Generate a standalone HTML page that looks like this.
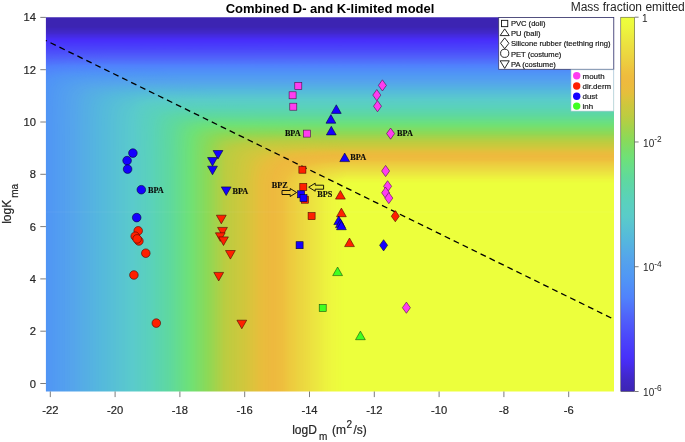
<!DOCTYPE html>
<html><head><meta charset="utf-8"><title>Combined D- and K-limited model</title>
<style>html,body{margin:0;padding:0;background:#fff}body{width:685px;height:442px;overflow:hidden}</style></head>
<body>
<svg width="685" height="442" viewBox="0 0 685 442" style="display:block">
<rect width="685" height="442" fill="#fff"/>
<g shape-rendering="geometricPrecision">
<clipPath id="hc"><rect x="45" y="17" width="569" height="375"/></clipPath><g clip-path="url(#hc)">
<rect x="44" y="16" width="571" height="377" fill="#3c24b2"/>
<path fill="#3d25b5" d="M44 393L44 27L615 26.9L615 393z"/>
<path fill="#3d25b8" d="M44 393L44 27.7L615 27.7L615 393z"/>
<path fill="#3e26bb" d="M44 393L44 28.5L615 28.5L615 393z"/>
<path fill="#3f26be" d="M44 393L44 29.3L615 29.3L615 393z"/>
<path fill="#3f27c1" d="M44 393L44 30.1L615 30.1L615 393z"/>
<path fill="#4027c4" d="M44 393L44 30.9L615 30.9L615 393z"/>
<path fill="#4128c7" d="M44 393L44 31.7L615 31.7L615 393z"/>
<path fill="#4229cc" d="M44 393L44 32.5L615 32.5L615 393z"/>
<path fill="#4229d1" d="M44 393L44 33.3L615 33.3L615 393z"/>
<path fill="#432ad7" d="M44 393L44 34.1L615 34L615 393z"/>
<path fill="#442adc" d="M44 393L44 34.8L615 34.8L615 393z"/>
<path fill="#442be1" d="M44 393L44 35.6L615 35.6L615 393z"/>
<path fill="#452ce6" d="M44 393L44 36.4L615 36.4L615 393z"/>
<path fill="#462ceb" d="M44 393L44 37.2L615 37.2L615 393z"/>
<path fill="#472df0" d="M44 393L44 38L615 38L615 393z"/>
<path fill="#472df5" d="M44 393L44 38.8L615 38.8L615 393z"/>
<path fill="#482efa" d="M44 393L44 39.6L615 39.6L615 393z"/>
<path fill="#4830fa" d="M44 393L44 40.4L615 40.4L615 393z"/>
<path fill="#4932fa" d="M44 393L44 41.2L615 41.1L615 393z"/>
<path fill="#4934fa" d="M44 393L44 42L615 41.9L615 393z"/>
<path fill="#4936fa" d="M44 393L44 42.8L615 42.7L615 393z"/>
<path fill="#4939fa" d="M44 393L44 43.6L615 43.5L615 393z"/>
<path fill="#4a3bfa" d="M44 393L44 44.4L615 44.3L615 393z"/>
<path fill="#4a3dfa" d="M44 393L44 45.2L615 45.1L615 393z"/>
<path fill="#4a3ffa" d="M44 393L44 46L615 45.9L615 393z"/>
<path fill="#4a41fa" d="M44 393L44 46.8L615 46.7L615 393z"/>
<path fill="#4b43fa" d="M44 393L44 47.6L615 47.4L615 393z"/>
<path fill="#4b45fa" d="M44 393L44 48.4L615 48.2L615 393z"/>
<path fill="#4b47fa" d="M44 393L44 49.2L615 49L615 393z"/>
<path fill="#4c4afa" d="M44 393L44 50L112.5 49.8L615 49.8L615 393z"/>
<path fill="#4c4dfa" d="M44 393L44 50.8L110 50.6L615 50.6L615 393z"/>
<path fill="#4d4ffa" d="M44 393L44 51.6L108.5 51.4L615 51.4L615 393z"/>
<path fill="#4d52fa" d="M44 393L44 52.4L110 52.2L615 52.2L615 393z"/>
<path fill="#4e54fa" d="M44 393L44 53.2L109.5 53L615 53L615 393z"/>
<path fill="#4e57fa" d="M44 393L44 54.1L107.5 53.8L615 53.8L615 393z"/>
<path fill="#4f59fa" d="M44 393L44 54.9L109.5 54.6L615 54.5L615 393z"/>
<path fill="#4f5cfa" d="M44 393L44 55.7L69 55.4L110 55.3L615 55.3L615 393z"/>
<path fill="#505efa" d="M44 393L44 56.6L68.5 56.2L109.5 56.1L615 56.1L615 393z"/>
<path fill="#5061fa" d="M44 393L44 57.4L68 57.1L110.5 56.9L615 56.9L615 393z"/>
<path fill="#5064fa" d="M44 393L44 58.3L68.5 57.9L109.5 57.7L615 57.7L615 393z"/>
<path fill="#5067fa" d="M44 393L44 59.1L68 58.7L111 58.5L615 58.5L615 393z"/>
<path fill="#506afb" d="M44 393L44 60L68 59.5L110 59.3L615 59.3L615 393z"/>
<path fill="#506dfb" d="M44 393L44 60.9L67 60.3L111 60.1L615 60.1L615 393z"/>
<path fill="#5070fb" d="M44 393L44 61.8L67 61.1L109 60.9L615 60.8L615 393z"/>
<path fill="#5073fb" d="M44 393L44 62.7L55 62.3L69 61.9L111 61.7L615 61.6L615 393z"/>
<path fill="#5076fb" d="M44 393L44 63.7L54 63.2L68 62.8L110 62.5L615 62.4L615 393z"/>
<path fill="#507afb" d="M44 393L44 64.7L54 64.1L67.5 63.6L108 63.3L615 63.2L615 393z"/>
<path fill="#507dfc" d="M44 393L44 65.7L53.5 65L66.5 64.5L108.5 64.1L615 64L615 393z"/>
<path fill="#5080fc" d="M44 393L44 66.7L54 65.9L67 65.3L84.5 65L107.5 64.9L615 64.8L615 393z"/>
<path fill="#5082fc" d="M44 393L44 67.8L53.5 66.9L67 66.2L83.5 65.8L108 65.7L615 65.6L615 393z"/>
<path fill="#5084fb" d="M44 393L44 69L53.5 67.9L65.5 67.1L82.5 66.7L106.5 66.5L615 66.4L615 393z"/>
<path fill="#5086fb" d="M44 393L44 70.2L53 68.9L66 68L82 67.5L105.5 67.3L615 67.2L615 393z"/>
<path fill="#5088fa" d="M44 393L44 71.6L48 70.7L53 70L64.9 69L81.5 68.4L104.5 68.1L168 67.9L615 67.9L615 393z"/>
<path fill="#508af9" d="M44 393L44 73L48 72L52.5 71.2L64 70L80.5 69.3L103.5 68.9L165 68.7L615 68.7L615 393z"/>
<path fill="#508cf9" d="M44 393L44 74.7L47.6 73.5L52 72.5L57 71.7L63.5 71L79.5 70.2L102 69.7L163 69.5L615 69.5L615 393z"/>
<path fill="#508ef8" d="M44 393L44 76.7L47.5 75.1L51.5 73.9L56.5 72.9L62.5 72.1L69.5 71.5L78.5 71.1L101.5 70.6L168 70.3L615 70.3L615 393z"/>
<path fill="#5090f7" d="M44 393L44 79.1L46.4 77.5L49.8 76L54 74.7L59 73.7L65 72.9L72.5 72.3L81 71.9L104 71.4L168.5 71.1L615 71.1L615 393z"/>
<path fill="#5092f7" d="M44 393L44 82.6L46 80.4L49 78.3L52.5 76.7L56.5 75.5L61.6 74.5L67.5 73.7L75 73.1L83 72.7L106.5 72.1L167 71.9L615 71.9L615 393z"/>
<path fill="#5094f6" d="M44 393L44 89L45.2 85.5L46.8 83L49 80.7L51.5 79L55 77.5L59 76.3L64 75.3L70 74.5L77.5 73.9L86.5 73.4L110 72.9L172 72.7L615 72.7L615 393z"/>
<path fill="#5095f5" d="M44.9 393L44.9 128L45.1 103L45.4 97.5L45.8 93.5L46.4 90L47.2 87.5L48.4 85L49.9 83L52 81.1L54 79.8L57.5 78.3L61.5 77.1L66.5 76.1L72.5 75.3L79.5 74.7L89 74.2L112.5 73.7L168.5 73.5L615 73.5L615 393z"/>
<path fill="#5097f4" d="M47.4 393L47.4 129.5L47.6 104L48.3 94.5L48.9 91L49.6 88.5L50.8 86L52.2 84L54 82.3L56.5 80.6L60 79.1L64 77.9L69 76.9L75 76.1L90 75.1L115 74.5L173 74.3L615 74.3L615 393z"/>
<path fill="#5198f3" d="M49.9 393L49.9 131L50.1 104.5L50.4 99L50.8 95L51.3 92L52.2 89L53.5 86.5L55 84.5L56.6 83L58.8 81.5L62.1 80L66.5 78.7L71.5 77.7L77.5 76.9L92 75.9L117 75.3L172 75L615 75L615 393z"/>
<path fill="#519af2" d="M52.4 393L52.4 131L52.6 105.5L52.9 100L53.3 96L53.9 92.5L54.7 90L55.8 87.5L57.3 85.5L59 83.9L61.5 82.2L65 80.6L69 79.4L74 78.4L80.5 77.6L87.5 77L95 76.7L121 76.1L174.5 75.8L615 75.8L615 393z"/>
<path fill="#529bf2" d="M54.9 393L54.9 132.5L55.1 106L55.4 100.5L55.8 96.5L56.5 93L57.3 90.5L58.5 88L60 86L61.7 84.5L64 83L67.3 81.5L71.5 80.2L76.5 79.2L83 78.4L90 77.8L98 77.4L123.5 76.9L177 76.6L615 76.6L615 393z"/>
<path fill="#529df1" d="M57.4 393L57.4 132.5L57.6 107L57.9 101.5L58.3 97.5L58.9 94L59.7 91.5L60.9 89L62.4 87L64 85.4L66.5 83.8L70 82.2L74.1 81L79.2 80L85.5 79.2L91.5 78.7L101 78.2L126 77.7L179.5 77.4L615 77.4L615 393z"/>
<path fill="#539ef0" d="M59.9 393L59.9 134L60.1 108L60.7 98.5L61.4 95L62.1 92.5L63.3 90L64.7 88L66.5 86.2L69 84.6L73 82.8L77.5 81.6L83 80.6L90 79.8L109 78.8L138.5 78.3L190 78.2L615 78.2L615 393z"/>
<path fill="#539fef" d="M62.4 393L62.4 134L62.6 109L63.2 99.5L63.8 96L64.5 93.5L65.6 91L67 89L69 87L71.2 85.5L74.5 84L79 82.6L84 81.6L90.5 80.8L98.5 80.2L109 79.7L139 79.2L190 79L615 79L615 393z"/>
<path fill="#54a1ee" d="M64.9 393L64.9 135.5L65.1 109.5L65.7 100L66.4 96.5L67.1 94L68.3 91.5L69.7 89.5L71.5 87.8L73.5 86.4L77 84.8L81 83.5L86 82.5L91.5 81.7L100 81.1L110.5 80.6L140 80L190 79.8L615 79.8L615 393z"/>
<path fill="#54a2ed" d="M67.4 393L67.4 135.5L67.6 110.5L68.2 101L68.8 97.5L69.5 95L70.7 92.5L72 90.5L74 88.6L76.3 87L79.6 85.5L84 84.2L89.5 83.1L95.5 82.4L103.5 81.8L113.5 81.3L143.5 80.7L193 80.6L615 80.6L615 393z"/>
<path fill="#55a4ec" d="M69.9 393L69.9 137L70.1 111L70.3 105.5L70.7 101.5L71.4 98L72.1 95.5L73.1 93.5L74.5 91.3L76.3 89.5L78.5 88L82 86.3L86.3 85L90.5 84.1L97 83.3L105.5 82.7L115 82.2L143 81.5L193 81.4L615 81.3L615 393z"/>
<path fill="#55a5eb" d="M72.4 393L72.4 134L72.6 111.5L73.2 102.5L73.7 99.5L74.6 96.5L75.7 94L77.1 92L79 90.1L81 88.8L84.5 87.1L89 85.7L93.5 84.9L100 84.1L108 83.5L118 83L146 82.3L196 82.1L615 82.1L615 393z"/>
<path fill="#55a7ea" d="M74.9 393L74.9 138.5L75.1 112.5L75.3 107L75.7 103L76.4 99.5L77.2 97L78.4 94.5L79.8 92.5L81.5 90.9L83.6 89.5L86.7 88L90.5 86.8L96 85.8L103 84.9L119.5 83.8L147 83.1L199 82.9L615 82.9L615 393z"/>
<path fill="#55a9e8" d="M77.4 393L77.4 138.5L77.6 113.5L78.2 104L78.8 100.5L79.6 98L80.7 95.5L82 93.7L83.7 92L86 90.3L89.5 88.7L93 87.7L98.5 86.6L105.5 85.7L122 84.6L148.5 83.9L199 83.7L615 83.7L615 393z"/>
<path fill="#55abe7" d="M79.9 393L79.9 140L80.1 114.5L80.7 105L81.3 101.5L82 99L83.1 96.5L84.5 94.5L86.5 92.5L88.5 91.1L91.5 89.8L96 88.5L101.5 87.4L108 86.6L123.5 85.5L150 84.7L199.5 84.5L615 84.5L615 393z"/>
<path fill="#55ade5" d="M82.4 393L82.4 140L82.6 115.5L83.2 106L83.7 102.5L84.4 100L85.5 97.5L86.8 95.5L88.5 93.7L90.5 92.2L94 90.7L98 89.5L103 88.4L109.5 87.5L117 86.8L126 86.3L140 85.7L152 85.5L202.5 85.3L615 85.3L615 393z"/>
<path fill="#55aee4" d="M84.9 393L84.9 141.5L85.1 116L85.7 106.5L86.2 103.5L87 100.6L88.2 98L89.5 96L91 94.6L93 93.3L96.5 91.6L100.5 90.4L105.5 89.3L112 88.3L119.5 87.6L127.5 87.1L141 86.5L154 86.3L205 86.1L615 86.1L615 393z"/>
<path fill="#55b0e3" d="M87.4 393L87.4 141.5L87.6 116.5L87.8 111L88.2 107L88.9 103.5L89.6 101L90.5 99.2L92 97.2L93.8 95.5L96 94L99.2 92.5L103.5 91.1L108.8 90L115 89.1L124 88.3L137 87.6L155.5 87.1L203 86.9L615 86.9L615 393z"/>
<path fill="#55b2e1" d="M89.9 393L89.9 143L90.1 117.5L90.3 112.5L90.7 108.5L91.4 105L92.2 102.5L93.4 100L94.9 98L96.5 96.4L98.5 95L102 93.3L106 92L111 90.9L117.1 90L125 89.2L138.5 88.4L156 87.9L205.5 87.7L615 87.7L615 393z"/>
<path fill="#55b4e0" d="M92.7 393L92.7 142.5L92.9 119L93.2 113.5L93.6 109.5L94.2 106L95 103.5L96.2 101L97.5 99.1L99.5 97.1L101.5 95.8L104.5 94.3L108.5 92.9L113.5 91.8L119 90.9L126.5 90.1L139 89.2L157 88.7L206 88.5L615 88.4L615 393z"/>
<path fill="#55b6de" d="M95.6 393L95.7 145L95.8 120L96.5 110.5L97 107.4L97.8 104.5L99 102L100.3 100L102.3 98L104.5 96.5L107.6 95L111.5 93.7L116 92.6L122 91.7L140.5 90L159 89.4L206.5 89.2L615 89.2L615 393z"/>
<path fill="#55b8dd" d="M98.6 393L98.6 144L98.7 120.5L99 115L99.4 111L100 107.8L100.8 105L102 102.5L103.5 100.5L105.5 98.6L107.5 97.2L110.5 95.8L114.5 94.4L119 93.4L124.7 92.5L142 90.8L161.5 90.2L209 90L615 90L615 393z"/>
<path fill="#55badb" d="M101.5 393L101.5 144.5L101.7 121L102.3 112L102.9 108.5L103.7 106L104.8 103.5L106.2 101.5L108 99.7L110.4 98L113.6 96.5L117.5 95.2L122 94.2L127.5 93.3L137.5 92.1L143.5 91.7L153 91.2L164 91L211.5 90.8L615 90.8L615 393z"/>
<path fill="#56bbda" d="M104.4 393L104.4 147L104.6 122.5L105.2 113L105.8 109.5L106.5 107L107.6 104.5L109 102.4L110.9 100.5L113 99L116 97.5L120 96.1L124.5 95L129.5 94.2L138 93.1L144.4 92.5L153.5 92.1L164.5 91.8L212 91.6L615 91.6L615 393z"/>
<path fill="#56bdd8" d="M107.3 393L107.3 146L107.5 123L107.7 117.5L108.1 113.5L108.6 110.5L109.5 107.5L110.7 105L112.1 103L114 101.1L116 99.7L119.5 98L124 96.6L128.5 95.6L138 94.1L149.5 93.1L166.5 92.6L214.5 92.4L615 92.4L615 393z"/>
<path fill="#57bfd7" d="M110.2 393L110.2 150L110.4 124L111 114.5L111.5 111.5L112.3 108.5L113.5 106L114.8 104L116.8 102L118.9 100.5L122.5 98.8L126.5 97.5L139.5 94.9L145 94.3L151 93.9L168.5 93.4L217 93.2L615 93.2L615 393z"/>
<path fill="#57c0d5" d="M113.1 393L113.1 147.5L113.3 124.5L113.5 119L113.9 115L114.5 111.9L115.4 109L116.5 106.6L118 104.5L120 102.6L122 101.2L125 99.7L128.5 98.5L136.5 96.6L141 95.7L146 95.2L152.5 94.7L169.5 94.2L217.5 94L615 94L615 393z"/>
<path fill="#58c2d3" d="M116 393L116 149.5L116.2 125L116.8 116L117.5 112.5L118.2 110L119.3 107.5L120.7 105.5L122.5 103.7L124.9 102L127.5 100.7L130.8 99.5L137.5 97.5L142.5 96.6L148 95.9L154 95.5L171.5 95L220 94.8L615 94.8L615 393z"/>
<path fill="#58c4d2" d="M118.9 393L118.9 152L119.1 126.5L119.7 117L120.3 113.5L121 111L122.1 108.5L123.5 106.4L125.4 104.5L127.5 103L130.4 101.5L136.5 99.1L139.5 98.3L143.5 97.5L149 96.8L155.5 96.3L173.5 95.7L220.5 95.5L615 95.5L615 393z"/>
<path fill="#58c5d0" d="M121.8 393L121.8 149.5L122 127L122.7 117.5L123.2 114.5L124 111.6L125 109.3L126.5 107.1L128.5 105.1L130.5 103.7L135.5 101.1L137.5 100.2L141 99.1L145 98.3L150 97.7L156.5 97.1L174 96.6L221 96.3L615 96.3L615 393z"/>
<path fill="#59c7cf" d="M124.7 393L124.7 150.5L125 126L125.3 121L125.8 117L126.5 113.6L127.5 110.9L128.9 108.5L130.5 106.7L136 102.5L138.5 101.3L141.5 100.3L145.5 99.3L150 98.6L162.5 97.7L180.5 97.3L225.5 97.1L615 97.1L615 393z"/>
<path fill="#59c9cd" d="M127.6 393L127.7 151L127.9 127.5L128.1 122.5L128.6 118.5L129.3 115L130.1 112.5L131.7 109.5L134.5 106.1L136.1 104.5L138 103.2L140.5 102L144 100.8L148 100L152.5 99.3L164.5 98.5L182.5 98.1L226 97.9L615 97.9L615 393z"/>
<path fill="#5acacc" d="M130.6 393L130.6 153L130.7 129L131.4 120L132 116.5L132.7 114L134.3 110L135.5 107.9L137.1 106L139.5 104.1L142 102.9L145.5 101.7L149.5 100.8L154 100.2L166 99.3L184.5 98.8L226.5 98.7L615 98.7L615 393z"/>
<path fill="#5acbca" d="M133.5 393L133.5 152.5L133.7 127.5L134.2 118.5L134.8 115L135.4 112.5L136.5 110L137.8 108L139.2 106.5L141.2 105L144 103.6L147 102.6L151 101.7L155.5 101L168 100.1L186.5 99.6L227.5 99.5L615 99.5L615 393z"/>
<path fill="#5accc8" d="M135.3 393L135.3 153L135.5 128L136 119L136.6 115.5L137.3 113L138.1 111L139.5 108.8L141 107.2L143 105.8L145.5 104.5L149 103.3L153 102.4L157.5 101.8L169.5 100.9L188.5 100.4L228.5 100.3L615 100.3L615 393z"/>
<path fill="#5acdc6" d="M137.1 393L137.1 154L137.2 129.5L137.8 120L138.3 116.5L139 114L140.1 111.5L141.4 109.5L143 107.8L144.8 106.5L147.5 105.2L151 104L155 103.2L159.5 102.5L171.5 101.6L190 101.2L232.5 101.1L615 101.1L615 393z"/>
<path fill="#5acdc5" d="M138.8 393L138.8 153L139 129.7L139.6 120.5L140.2 117L140.9 114.5L141.7 112.5L143 110.5L144.5 108.9L146.5 107.4L149.2 106L152.5 104.9L156.5 104L161 103.3L173 102.4L191.7 102L233.5 101.9L615 101.8L615 393z"/>
<path fill="#5acec3" d="M140.6 393L140.6 154L140.8 130.5L141.3 121.5L141.9 118L142.6 115.5L143.7 113L145 111L146.5 109.4L148.5 108L151 106.8L154.5 105.6L158.5 104.7L163 104.1L175 103.2L193 102.8L234.5 102.6L615 102.6L615 393z"/>
<path fill="#5acfc1" d="M142.4 393L142.4 155L142.5 131.5L143.1 122.5L143.6 119L144.3 116.5L145.3 114L146.5 112.1L148 110.5L150 109L152.5 107.7L155.9 106.5L159.5 105.7L164.5 104.9L176.5 104L195 103.6L238.5 103.4L615 103.4L615 393z"/>
<path fill="#5acfc0" d="M144.2 393L144.2 156L144.3 132L144.9 123L145.5 119.5L146.2 117L147.2 114.5L148.5 112.6L150.1 111L152 109.6L154.5 108.4L158 107.2L162 106.3L166.5 105.7L178.5 104.8L197 104.4L242 104.2L615 104.2L615 393z"/>
<path fill="#5ad0be" d="M145.9 393L145.9 157L146.1 133L146.6 124L147.2 120.5L147.9 118L148.9 115.5L150 113.8L151.6 112L153.6 110.5L156.5 109.1L159.5 108.1L163.5 107.2L168 106.5L180 105.6L198.5 105.2L246 105L615 105L615 393z"/>
<path fill="#5ad1bc" d="M147.7 393L147.7 158L147.9 134L148.4 124.5L149 121.2L149.7 118.5L150.8 116L152 114.3L153.5 112.7L155.5 111.2L158 110L161.5 108.8L165.5 107.9L170 107.3L182 106.4L200.5 105.9L247 105.8L615 105.8L615 393z"/>
<path fill="#5ad1bb" d="M149.5 393L149.5 159L149.6 134.5L150.3 125L150.8 122L151.5 119.3L152.5 117L153.8 115L155.2 113.5L157.3 112L160 110.7L163 109.7L167 108.7L171.5 108.1L183.5 107.2L201 106.7L248 106.6L615 106.6L615 393z"/>
<path fill="#5ad2b9" d="M151.2 393L151.2 160L151.4 135.5L151.9 126.5L152.5 123L153.1 120.5L154.2 118L155.4 116L157 114.3L159 112.8L161.7 111.5L165 110.4L169 109.5L173.5 108.8L185.5 108L203.5 107.5L252 107.4L615 107.4L615 393z"/>
<path fill="#5bd3b6" d="M153 393L153 158L153.2 136L153.8 127L154.3 123.5L155 121L155.8 119L157 117L158.5 115.3L160.5 113.8L162.9 112.5L166 111.4L170 110.4L174.5 109.7L186 108.8L203.5 108.3L250.5 108.2L615 108.2L615 393z"/>
<path fill="#5bd3b3" d="M154.8 393L154.8 160L155 137L155.5 128L156 124.8L156.7 122L157.7 119.5L159 117.5L160.5 115.9L162.4 114.5L165 113.2L168 112.1L171.5 111.3L176 110.5L188 109.6L205 109.1L252 109L615 108.9L615 393z"/>
<path fill="#5bd4b1" d="M156.6 393L156.6 161L156.7 137.5L157.3 128.5L157.9 125L158.6 122.5L159.7 120L161 118L162.5 116.5L164.5 115.1L167 113.9L170.5 112.7L174.5 111.8L179 111.2L191.5 110.3L209.5 109.9L615 109.7L615 393z"/>
<path fill="#5cd5ae" d="M158.3 393L158.3 160.5L158.5 138.5L159.1 129.5L159.6 126L160.3 123.5L161.3 121L162.5 119.2L164 117.5L166 116L168.5 114.8L171.5 113.7L175.5 112.8L180 112.1L191.5 111.1L210 110.7L261.5 110.5L615 110.5L615 393z"/>
<path fill="#5cd5ab" d="M160.1 393L160.1 161.5L160.3 139L160.9 130L161.5 126.5L162.2 124L163.3 121.5L164.5 119.7L166.2 118L168 116.7L170.5 115.5L174 114.3L177.5 113.5L182 112.8L193.5 111.9L211 111.5L265.5 111.3L615 111.3L615 393z"/>
<path fill="#5dd6a9" d="M161.9 393L161.9 162.5L162.1 140L162.6 131L163.2 127.5L163.9 125L164.9 122.5L166 120.8L167.5 119.2L169.5 117.6L172 116.4L175 115.3L179 114.3L183.5 113.7L195 112.7L212.5 112.3L264 112.1L615 112.1L615 393z"/>
<path fill="#5dd7a6" d="M163.7 393L163.7 165L163.8 141L164.4 132L164.9 128.5L165.6 126L166.6 123.5L167.9 121.5L169.2 120L171.2 118.5L174 117L177 116L181 115.1L185.5 114.4L197 113.5L214.5 113L275.5 112.9L615 112.9L615 393z"/>
<path fill="#5ed7a3" d="M165.4 393L165.4 163L165.6 141.5L166.2 132.5L166.6 129.5L167.4 126.5L168.3 124.5L169.5 122.5L171 120.8L173 119.3L175.5 118L178.5 116.9L182.2 116L187 115.2L198 114.3L215.5 113.8L276 113.7L615 113.7L615 393z"/>
<path fill="#5ed8a1" d="M167.2 393L167.2 165L167.4 142.5L167.9 133.5L168.5 130L169.1 127.5L170.2 125L171.5 123L173 121.4L174.8 120L177.5 118.6L180.5 117.6L184 116.8L189 116L200.5 115.1L217 114.6L276.5 114.5L615 114.5L615 393z"/>
<path fill="#5fd99e" d="M169 393L169 167.5L169.2 143.5L169.7 134.5L170.2 131L170.8 128.5L171.8 126L173.1 124L174.5 122.4L176.5 120.9L179 119.6L182 118.5L186 117.5L190.5 116.8L201.5 115.9L219 115.4L279.5 115.3L615 115.3L615 393z"/>
<path fill="#60d99b" d="M170.8 393L170.8 167L170.9 143.5L171.5 134.9L172 131.7L172.7 129L173.8 126.5L175 124.6L176.5 123L178.5 121.5L181 120.2L184 119.2L188 118.2L192.5 117.5L204 116.6L220.5 116.2L280 116L615 116L615 393z"/>
<path fill="#61da98" d="M172.5 393L172.5 169.5L172.7 145L173.2 136L173.8 132.5L174.4 130L175.4 127.5L176.7 125.5L178 124L180 122.5L182.5 121.1L186 119.9L189.5 119.1L194 118.3L205.5 117.4L222.5 117L283 116.8L615 116.8L615 393z"/>
<path fill="#63db94" d="M174.3 393L174.3 167.5L174.5 145L175 136.5L175.6 133L176.3 130.5L177.4 128L178.5 126.2L180 124.6L182 123.1L184.5 121.8L187.5 120.8L191 119.9L195.5 119.2L206.5 118.3L223.5 117.8L283.5 117.6L615 117.6L615 393z"/>
<path fill="#64dc91" d="M176.1 393L176.1 169.5L176.3 146L176.8 137.5L177.3 134L178 131.5L179 129L180.3 127L181.7 125.5L183.6 124L186 122.7L189 121.6L192.5 120.7L197 120L208 119.1L225 118.6L286.5 118.4L615 118.4L615 393z"/>
<path fill="#65dc8d" d="M177.9 393L177.9 169L178 147L178.6 138L179.2 134.5L179.9 132L180.9 129.5L182.3 127.5L183.8 126L185.8 124.5L188.5 123.2L191.5 122.2L195 121.4L199 120.7L210.5 119.8L226 119.4L287 119.2L615 119.2L615 393z"/>
<path fill="#67dd8a" d="M179.6 393L179.6 170L179.8 147.5L180.4 138.5L181 135L181.7 132.5L182.6 130.5L184 128.4L185.5 126.8L187.5 125.3L190 124L193 123L196.5 122.2L200.5 121.5L211.5 120.6L226 120.2L286 120L615 120L615 393z"/>
<path fill="#68de86" d="M181.4 393L181.4 172L181.6 148L182.2 139.5L182.7 136L183.4 133.5L184.5 131.1L185.9 129L187.3 127.5L189 126.2L191.3 125L194 124L197.5 123.1L201.5 122.4L212 121.5L226 121L288.5 120.8L615 120.8L615 393z"/>
<path fill="#6adf83" d="M183.2 393L183.2 171.5L183.4 149L184 140L184.5 136.8L185.3 134L186.1 132L187.4 130L189 128.3L190.7 127L193 125.8L195.5 124.8L198.7 124L202.5 123.3L212.5 122.3L226.5 121.8L289.5 121.6L615 121.6L615 393z"/>
<path fill="#6bdf7f" d="M184.9 393L185 173L185.1 149.5L185.7 140.5L186.2 137.5L186.9 135L187.7 133L189 130.9L190.5 129.2L192.5 127.7L194.9 126.5L197.6 125.5L201 124.7L204.9 124L215 123.1L228.5 122.6L292 122.4L615 122.3L615 393z"/>
<path fill="#6ce07c" d="M186.6 393L186.6 173.5L186.8 150L187.4 141.5L188 138L188.7 135.5L189.6 133.5L190.8 131.5L192.2 130L194.2 128.5L196.5 127.3L199.5 126.2L202.5 125.5L206.5 124.8L216.5 123.9L230.5 123.4L290 123.1L615 123.1L615 393z"/>
<path fill="#6ee179" d="M188.3 393L188.3 174L188.5 151.5L189.1 142.5L189.6 139L190.3 136.5L191.4 134L192.5 132.3L194 130.7L196 129.2L198.4 128L201.5 126.9L205 126.1L209.5 125.4L220 124.5L234 124.2L295.5 123.9L615 123.9L615 393z"/>
<path fill="#70e075" d="M190 393L190 174.5L190.2 152L190.7 143.5L191.2 140.5L192 137.5L192.8 135.5L194 133.4L195.5 131.7L197.5 130.1L200 128.8L203 127.8L206.5 126.9L210.5 126.3L221.5 125.3L236 125L293.5 124.7L615 124.7L615 393z"/>
<path fill="#73e072" d="M191.7 393L191.7 175L191.9 153L192.4 144.5L193 141L193.6 138.5L194.6 136L195.8 134L197.2 132.5L199.1 131L201.5 129.7L204.5 128.6L207.5 127.9L212 127.1L223 126.1L237.5 125.8L294.5 125.5L615 125.5L615 393z"/>
<path fill="#76df6f" d="M193.4 393L193.4 175.5L193.6 153.5L194.2 145L194.7 141.5L195.4 139L196.2 137L197.5 134.8L199 133.2L201 131.7L203.5 130.4L206.5 129.3L210.5 128.4L214.5 127.7L225.5 126.9L241.5 126.5L297 126.3L615 126.3L615 393z"/>
<path fill="#79de6c" d="M195.1 393L195.1 177L195.3 154L195.9 145.5L196.5 142L197.2 139.5L198 137.5L199.3 135.5L200.7 134L202.6 132.5L205 131.2L208 130.2L212 129.2L216.4 128.5L226 127.7L243 127.4L298 127.1L615 127.1L615 393z"/>
<path fill="#7cdd69" d="M196.8 393L196.8 177.5L197 155.5L197.6 146.5L198.1 143L198.8 140.5L199.9 138L201 136.3L202.5 134.7L204.5 133.2L207 131.9L210.5 130.7L214 129.9L218.5 129.2L226 128.6L246 128.1L300.5 127.9L615 127.9L615 393z"/>
<path fill="#7fdd66" d="M198.5 393L198.5 179L198.7 156L199.3 147L199.8 144L200.5 141.3L201.5 138.9L202.7 137L204.1 135.5L206 134.1L209 132.6L212 131.5L215.5 130.7L220 130L227.5 129.4L249 128.9L304 128.7L615 128.7L615 393z"/>
<path fill="#81dc63" d="M200.2 393L200.2 179.5L200.4 156.5L201 147.7L201.5 144.5L202.2 142L203 140L204.3 138L205.6 136.5L207.5 135L210 133.6L213 132.5L216.5 131.6L221 130.9L226 130.4L230.5 130.2L250.5 129.7L305 129.5L615 129.4L615 393z"/>
<path fill="#84db60" d="M201.9 393L201.9 181L202.1 157.5L202.6 149L203.2 145.5L203.8 143L204.9 140.5L206 138.7L207.5 137.1L209.6 135.5L212.5 134L215.5 133L219.5 132.1L224 131.5L236 130.9L254.5 130.5L306 130.2L615 130.2L615 393z"/>
<path fill="#87da5c" d="M203.6 393L203.6 181L203.8 158.5L204.4 149.5L204.8 146.5L205.5 143.9L206.5 141.5L207.5 139.8L209 138L211 136.4L213.6 135L217 133.8L221 132.9L225.5 132.3L238.5 131.7L256.5 131.3L311 131L615 131L615 393z"/>
<path fill="#8ada59" d="M205.3 393L205.3 182.5L205.5 159.1L206 150.5L206.6 147L207.3 144.5L208.1 142.5L209.5 140.1L211 138.4L212.9 137L215.5 135.7L218.5 134.6L222 133.8L226 133.2L239.5 132.5L260 132.1L310.5 131.8L615 131.8L615 393z"/>
<path fill="#8dd956" d="M207 393L207 182.5L207.2 160L207.8 151L208.3 148L209 145.1L209.8 143L211 141L212.5 139.3L214.5 137.8L217 136.5L219.5 135.6L222.5 134.8L226 134.2L241 133.3L262 132.9L314 132.6L615 132.6L615 393z"/>
<path fill="#91d854" d="M208.7 393L208.7 182.5L208.9 160.5L209.4 152L209.9 148.5L210.6 146L211.6 143.5L212.8 141.5L214.2 140L216 138.6L218.1 137.5L220.5 136.6L223.5 135.8L226.5 135.2L242 134.2L264 133.7L313.5 133.4L615 133.4L615 393z"/>
<path fill="#96d652" d="M210.3 393L210.3 183.5L210.5 161L211 152.5L211.5 149.4L212.2 146.5L213.1 144.5L214.3 142.5L215.6 141L217.5 139.5L219.5 138.4L222.5 137.2L226 136.4L229 136L244.2 135L266 134.4L317 134.2L615 134.2L615 393z"/>
<path fill="#9ad550" d="M211.9 393L211.9 183L212.1 162L212.6 153.5L213.1 150L213.8 147.5L214.6 145.5L215.7 143.5L217 142L219 140.3L221.5 139L225 137.8L231.5 136.8L246.5 135.8L269 135.2L319 135L615 135L615 393z"/>
<path fill="#9ed44e" d="M213.5 393L213.5 183.5L213.7 162.5L214.2 154L214.8 150.5L215.5 148L216.3 146L217.5 144L219 142.4L220.8 141L223 139.8L226 138.7L236 137.4L252 136.5L276.5 135.9L323.5 135.8L615 135.8L615 393z"/>
<path fill="#a3d34c" d="M215.1 393L215.1 183.5L215.3 163.5L215.8 155L216.3 151.5L217 149L217.8 147L219 144.9L220.5 143.2L222.5 141.7L224.5 140.7L226.5 139.9L232 139L239 138.2L254 137.3L278.5 136.7L325 136.5L615 136.5L615 393z"/>
<path fill="#a7d24a" d="M216.7 393L216.7 183.5L216.9 164.5L217.4 155.5L217.9 152.5L218.5 150L219.5 147.6L220.8 145.5L222.1 144L224 142.6L226 141.5L230 140.5L235.5 139.6L242 138.9L257.5 138L280.5 137.5L328.5 137.3L615 137.3L615 393z"/>
<path fill="#abd148" d="M218.3 393L218.3 183.5L218.5 164.5L219.1 156L219.6 153L220.2 150.5L221 148.5L222.2 146.5L223.5 145L225.5 143.4L228.5 142.3L233 141.3L238 140.4L244 139.8L259 138.9L281.5 138.3L330 138.1L615 138.1L615 393z"/>
<path fill="#afd046" d="M219.9 393L219.9 183.5L220.1 166L220.6 157.5L221.6 152L222.3 150L223.3 148L224.5 146.4L226 145L229.5 143.6L233.5 142.5L238.5 141.5L244.5 140.8L259 139.8L282.5 139.1L337.5 138.9L615 138.9L615 393z"/>
<path fill="#b4ce44" d="M221.5 393L221.5 183.5L221.6 169.5L222 160.5L222.8 154.5L223.4 152L224.3 150L225.5 148L226.5 147L229.5 145.4L233.5 144L238 142.9L244 141.9L250.5 141.2L258.5 140.7L281 140L333 139.7L615 139.7L615 393z"/>
<path fill="#b8cd42" d="M223.1 393L223.1 183.5L223.3 168.5L223.8 159L224.2 156L224.8 153.5L226 150.6L227.5 149L229.5 147.6L232.5 146L236 144.8L240.5 143.7L246 142.8L252.5 142.1L260 141.5L280.5 140.8L338.5 140.5L615 140.5L615 393z"/>
<path fill="#bbcc41" d="M224.7 393L224.7 183.5L224.9 169.5L225.3 161L226 156L227.1 153.5L228.5 151.5L230 149.9L232 148.4L235 146.8L238.8 145.5L243 144.5L248.5 143.6L254.5 142.9L262 142.4L283 141.6L339 141.3L615 141.3L615 393z"/>
<path fill="#becc40" d="M226.5 393L226.5 183.5L226.7 174L227.4 163.5L228 159.5L228.7 156.5L229.6 154.5L231 152.4L232.5 150.8L234.5 149.3L237.5 147.7L241 146.4L245.5 145.3L251 144.4L257.5 143.7L265 143.1L285.5 142.4L343 142.1L615 142.1L615 393z"/>
<path fill="#c1cb3f" d="M229.1 393L229.1 183.5L229.3 176L230 165L230.5 161.3L231.3 158L232.2 155.5L233.3 153.5L235 151.7L237 150.1L240 148.5L243.5 147.2L248 146.1L253.5 145.2L259.5 144.5L267 144L288.5 143.2L343 142.8L615 142.8L615 393z"/>
<path fill="#c4ca3f" d="M231.7 393L231.7 183.5L231.9 177.5L232.6 166.5L233.1 162.5L233.8 159.5L234.9 156.5L236 154.4L237.5 152.5L239.5 151L242.5 149.3L246.1 148L250.5 146.9L256 146L261.5 145.4L268.5 144.9L280 144.3L291.5 144L345 143.6L615 143.6L615 393z"/>
<path fill="#c7c93e" d="M234.3 393L234.3 183.5L234.5 178.5L235.3 167L235.9 163L236.6 160L237.6 157.5L239 155L240.8 153L242.7 151.5L245.5 150L249 148.7L253 147.7L258.5 146.8L266 146.1L276 145.4L295 144.8L345 144.4L615 144.4L615 393z"/>
<path fill="#cac93e" d="M236.9 393L237 180L237.8 168.5L238.5 164.3L239.3 161L240.3 158.5L241.7 156L243.5 154L245.5 152.4L248.5 150.8L252 149.6L256.5 148.5L261.5 147.7L268 147L278.5 146.2L297.5 145.6L345 145.2L615 145.2L615 393z"/>
<path fill="#cdc83d" d="M239.5 393L239.6 181.5L240.4 170L241.1 165.5L242 162L243.2 159L244.5 156.9L246.2 155L248.5 153.2L251.5 151.6L255 150.4L259.5 149.4L264.5 148.5L280.5 147.1L300.5 146.4L345.5 146L615 146L615 393z"/>
<path fill="#d0c73d" d="M242.2 393L242.2 182.5L243 171.3L243.7 167L244.5 163.5L245.7 160.5L247 158.2L248.9 156L251 154.3L254 152.7L257.5 151.4L262 150.3L267 149.5L276 148.4L282.5 147.9L303.5 147.2L345 146.8L615 146.8L615 393z"/>
<path fill="#d3c63c" d="M244.8 393L244.8 183L245.1 177L245.7 172L246.4 167.5L247.4 164L248.5 161.3L250 158.9L251.6 157L254 155.2L257 153.6L260.5 152.3L265 151.2L270.5 150.3L277.5 149.4L285 148.7L306.5 147.9L345.5 147.6L615 147.6L615 393z"/>
<path fill="#d7c53c" d="M247.4 393L247.4 183.5L247.7 178L248.3 173L249 168.9L250 165.3L251.1 162.5L252.6 160L254.4 158L256.5 156.3L259.8 154.5L264 153L268.5 152L276 150.7L282 150L289 149.5L308 148.8L345 148.4L615 148.4L615 393z"/>
<path fill="#dbc33c" d="M250 393L250 183.5L250.4 178L251 173.3L251.7 169.5L252.8 166L254 163.2L255.5 160.8L257.1 159L259.5 157.1L262.5 155.5L266.7 154L274.5 152.2L278.7 151.5L284.5 150.8L292 150.3L312 149.5L345.5 149.2L615 149.2L615 393z"/>
<path fill="#dfc23c" d="M252.6 393L252.6 183.5L253 178.5L253.7 174L254.5 170L255.5 166.9L256.6 164.5L258.1 162L259.9 160L262 158.3L265 156.6L268.5 155.3L275.5 153.4L280.5 152.4L286.5 151.7L294 151.1L315 150.3L345.5 149.9L615 149.9L615 393z"/>
<path fill="#e2c03c" d="M255.2 393L255.2 183.5L255.6 179L256.3 174.5L257.3 170.5L258.3 167.5L259.6 165L261 162.8L263 160.7L265 159.2L269 157.1L274.5 155.1L278.5 154.1L283 153.3L289 152.5L296.5 151.9L317.5 151.1L345.5 150.7L615 150.7L615 393z"/>
<path fill="#e6be3c" d="M257.8 393L257.8 183.5L258.3 179L259 175L259.9 171.5L261 168.6L262.3 166L263.6 164L265.4 162L267.5 160.3L270.5 158.6L276 156.3L280 155.1L285 154.2L291.5 153.3L299.5 152.7L321 151.8L345.5 151.5L615 151.5L615 393z"/>
<path fill="#e8bd3c" d="M260.4 393L260.4 183.5L261.6 176L262.5 172.7L263.7 169.5L265 167L266.5 164.8L268.2 163L270.5 161.2L274.5 158.8L278 157.2L282.3 156L287.5 155L294 154.2L302 153.5L324.5 152.6L345.5 152.3L615 152.3L615 393z"/>
<path fill="#eabc3d" d="M263 393L263 183.5L263.6 179.5L264.5 175.6L265.5 172.5L266.8 169.5L268.3 167L270 165L275 160.7L278.1 159L281.5 157.7L286 156.5L291 155.7L297 154.9L304.5 154.3L325 153.4L345.5 153.1L615 153.1L615 393z"/>
<path fill="#ebbb3d" d="M265.6 393L265.6 183.5L266.2 180L267.1 176.5L268.1 173.5L269.5 170.5L271 168L273.8 164.5L275.4 163L277 161.7L280 160L283.5 158.7L287.9 157.5L293 156.6L299 155.8L306.5 155.2L326.5 154.2L345.5 153.9L615 153.9L615 393z"/>
<path fill="#ecba3e" d="M268.2 393L268.2 183.5L269.6 177.5L270.6 174.5L271.8 172L273.7 168.5L275 166.5L276.8 164.5L279 162.8L282.1 161L286 159.5L290.5 158.3L295.5 157.4L302 156.6L310 155.9L329 155L345.5 154.7L615 154.7L615 393z"/>
<path fill="#eeb93e" d="M270.8 393L270.8 183.5L271.6 180L273 175.5L274.8 171L276 168.9L277.5 166.9L279 165.4L281 163.8L284.1 162L287.8 160.5L292.5 159.2L298 158.2L305.5 157.3L314 156.6L325 155.9L334 155.7L345.5 155.5L615 155.5L615 393z"/>
<path fill="#eeba3e" d="M273.2 393L273.2 183.5L274.5 177.5L275.6 174.5L276.7 172L278 169.8L279.5 167.9L281 166.4L283 164.8L286 163L290 161.4L295 160L300.5 159L308 158L316.5 157.3L325 156.8L337 156.4L345.5 156.3L615 156.3L615 393z"/>
<path fill="#eebb3e" d="M275.1 393L275.1 183.5L276.7 177.5L277.6 175L278.9 172.5L281.5 168.8L283 167.3L285 165.7L288.5 163.7L292.5 162.2L297.5 160.8L303.5 159.7L311.5 158.7L320.5 158L340 157.2L345.5 157L615 157L615 393z"/>
<path fill="#eebc3e" d="M277 393L277 183.5L278.5 178.3L279.5 175.8L280.7 173.5L282 171.6L283.5 169.7L285 168.3L287 166.7L290.5 164.7L294.8 163L300 161.6L306 160.5L314 159.5L323 158.7L343 157.9L615 157.8L615 393z"/>
<path fill="#eebd3e" d="M279 393L279 183.5L280.5 178.5L282.8 174L285.6 170.5L289 167.6L292.5 165.6L297 163.8L302 162.5L308 161.3L316 160.3L325 159.4L345 158.6L615 158.6L615 393z"/>
<path fill="#eebe3e" d="M280.9 393L280.9 183.5L282.5 179L284.6 175L287.4 171.5L290.5 168.9L294 166.8L298.2 165L303.3 163.5L309.5 162.2L316.5 161.2L325 160.3L345 159.4L615 159.4L615 393z"/>
<path fill="#eec03e" d="M282.8 393L282.8 183.5L284.5 179.2L286.7 175.5L289.2 172.5L292.5 169.7L296 167.7L300 166L305 164.4L311 163.1L318 162L325 161.3L345 160.2L615 160.2L615 393z"/>
<path fill="#eec33e" d="M284.7 393L284.7 183.5L286.5 179.5L288.5 176.3L291 173.4L294 170.9L297.5 168.8L302 166.8L307 165.2L312.5 164L318.5 163L325 162.2L345 161L615 161L615 393z"/>
<path fill="#edc63f" d="M286.7 393L286.7 183.5L288.3 180L290.5 176.7L293 174L296 171.6L299.6 169.5L304 167.6L309 166L314.5 164.8L325 163.1L345 161.8L615 161.8L615 393z"/>
<path fill="#edc93f" d="M288.6 393L288.6 183.5L290.1 180.5L292.2 177.5L294.6 175L297.5 172.7L301 170.6L305 168.8L310 167.1L315.5 165.7L325 164.1L345 162.6L615 162.6L615 393z"/>
<path fill="#edcb3f" d="M290.5 393L290.5 183.5L292 180.8L294 178.2L296.5 175.6L299 173.7L302.5 171.5L307 169.5L312 167.8L317.1 166.5L325.2 165L335 164.1L345 163.4L615 163.3L615 393z"/>
<path fill="#edcd3f" d="M292.4 393L292.4 183.5L294 180.9L296 178.5L298.1 176.5L300.5 174.6L303.9 172.5L308.2 170.5L313 168.8L318.5 167.3L326.5 165.8L335.5 164.9L345 164.1L615 164.1L615 393z"/>
<path fill="#edcf3f" d="M294.4 393L294.4 183.5L295.7 181.5L297.3 179.5L299.4 177.5L301.5 175.8L305.2 173.5L309.3 171.5L314 169.8L319.5 168.2L325 167L327.5 166.7L336 165.7L345 164.9L615 164.9L615 393z"/>
<path fill="#ecd240" d="M296.3 393L296.3 183.5L297.5 181.8L299.1 180L303 176.6L306.5 174.4L311 172.2L315.5 170.5L320.8 169L325 168L329.5 167.4L345 165.7L615 165.7L615 393z"/>
<path fill="#ecd440" d="M298.2 393L298.2 183.5L300.8 180.5L304.3 177.5L308 175.2L312 173.2L316.5 171.5L322 169.8L325.1 169L330.5 168.2L345 166.5L615 166.5L615 393z"/>
<path fill="#ecd640" d="M300.1 393L300.1 183.5L302.5 180.9L305.5 178.4L309 176.2L313 174.2L318 172.2L323 170.6L325.3 170L332 168.9L345 167.3L615 167.3L615 393z"/>
<path fill="#ecd840" d="M302.1 393L302.1 183.5L304 181.5L307 179L310.5 176.9L314.5 174.8L319 173L324.5 171.2L333.5 169.6L345 168.1L615 168.1L615 393z"/>
<path fill="#ecda40" d="M304 393L304 183.5L305.5 182L308 180L311.5 177.7L315.5 175.7L320 173.8L325 172.1L334.5 170.3L345 168.9L615 168.9L615 393z"/>
<path fill="#ecdc40" d="M305.9 393L305.9 183.5L309 180.9L312 178.9L316 176.8L320 175L325 173.2L334.5 171.2L345 169.7L615 169.7L615 393z"/>
<path fill="#ecde40" d="M307.8 393L307.8 183.5L310.3 181.5L313.3 179.5L317 177.5L321 175.8L325 174.3L335.5 172L345.5 170.4L615 170.4L615 393z"/>
<path fill="#ece140" d="M309.8 393L309.8 183.5L311.5 182.1L314.5 180.2L317.6 178.5L325 175.3L335 173L345.5 171.2L615 171.2L615 393z"/>
<path fill="#ece340" d="M311.7 393L311.7 183.5L312.5 182.8L315 181.2L318 179.5L325 176.4L335.5 173.8L345.5 172L615 172L615 393z"/>
<path fill="#ece540" d="M313.6 393L313.6 183.5L314 183.2L319 180.2L325 177.4L335.5 174.7L345.5 172.8L615 172.8L615 393z"/>
<path fill="#ece740" d="M315.5 393L315.5 183.5L316 183.1L320 180.8L325 178.5L335.5 175.6L345.5 173.6L615 173.6L615 393z"/>
<path fill="#ece940" d="M317.5 393L317.5 183.4L321.5 181.1L325.5 179.3L336 176.4L345.5 174.4L615 174.4L615 393z"/>
<path fill="#ecec3f" d="M319.4 393L319.5 183.4L325 180.5L327.5 179.7L337 177L345.5 175.2L615 175.2L615 393z"/>
<path fill="#ecee3f" d="M321.3 393L321.3 183.5L321.5 183.3L325 181.5L329.6 180L338.5 177.5L345.5 176L615 176L615 393z"/>
<path fill="#edf13f" d="M323.2 393L323.2 183.5L325.1 182.5L332 180.2L340 178L345.5 176.8L615 176.8L615 393z"/>
<path fill="#edf33f" d="M325.2 393L325.2 183.5L329.5 181.9L335.5 180.1L342 178.3L345.5 177.5L615 177.5L615 393z"/>
<path fill="#edf53e" d="M327.9 393L327.9 183.5L336.5 180.7L345.5 178.3L615 178.3L615 393z"/>
<path fill="#edf83e" d="M330.5 393L330.5 183.5L338 181.1L345.5 179.1L615 179.1L615 393z"/>
<path fill="#edf93e" d="M333.2 393L333.2 183.5L340 181.3L345.5 179.9L615 179.9L615 393z"/>
<path fill="#edfb3d" d="M335.8 393L335.8 183.5L341.5 181.7L345.5 180.7L615 180.7L615 393z"/>
<path fill="#ecfc3d" d="M338.5 393L338.5 183.5L345.5 181.5L615 181.5L615 393z"/>
<path fill="#ecfe3c" d="M341.2 393L341.2 183.5L345.5 182.3L615 182.3L615 393z"/>
<path fill="#ecff3c" d="M343.8 393L343.8 183.5L345.5 183.1L615 183.1L615 393z"/>
</g>
<path fill="#fff" d="M44 16H45.9V393H44z M44 16H615V17.2H44z M44 391.5H615V393H44z"/>
</g>
<line x1="45.9" y1="212" x2="614" y2="212" stroke="#fff" stroke-opacity="0.06" stroke-width="1"/>
<path d="M50.3 391.5v5.6M115.1 391.5v5.6M179.9 391.5v5.6M244.7 391.5v5.6M309.5 391.5v5.6M374.3 391.5v5.6M439.1 391.5v5.6M503.9 391.5v5.6M568.7 391.5v5.6M45.9 383.5h-5.6M45.9 331.2h-5.6M45.9 278.9h-5.6M45.9 226.6h-5.6M45.9 174.3h-5.6M45.9 122h-5.6M45.9 69.7h-5.6M45.9 17.4h-5.6" stroke="#5a5a5a" stroke-width="0.8" fill="none"/>
<g font-family="'Liberation Sans', Arial, Helvetica, sans-serif" font-size="11.2" fill="#262626" stroke="#262626" stroke-width="0.18">
<text x="50.3" y="413.6" text-anchor="middle">-22</text>
<text x="115.1" y="413.6" text-anchor="middle">-20</text>
<text x="179.9" y="413.6" text-anchor="middle">-18</text>
<text x="244.7" y="413.6" text-anchor="middle">-16</text>
<text x="309.5" y="413.6" text-anchor="middle">-14</text>
<text x="374.3" y="413.6" text-anchor="middle">-12</text>
<text x="439.1" y="413.6" text-anchor="middle">-10</text>
<text x="503.9" y="413.6" text-anchor="middle">-8</text>
<text x="568.7" y="413.6" text-anchor="middle">-6</text>
<text x="36" y="387.5" text-anchor="end">0</text>
<text x="36" y="335.2" text-anchor="end">2</text>
<text x="36" y="282.9" text-anchor="end">4</text>
<text x="36" y="230.6" text-anchor="end">6</text>
<text x="36" y="178.3" text-anchor="end">8</text>
<text x="36" y="126" text-anchor="end">10</text>
<text x="36" y="73.7" text-anchor="end">12</text>
<text x="36" y="21.4" text-anchor="end">14</text>
</g>
<line x1="45.9" y1="40.5" x2="614" y2="319.3" stroke="#000" stroke-width="1.3" stroke-dasharray="5.9 4.08" stroke-dashoffset="4.86"/>
<circle cx="132.9" cy="153.1" r="4.3" fill="#1400ff" stroke="#04003a" stroke-width="0.6"/>
<circle cx="127.1" cy="160.6" r="4.3" fill="#1400ff" stroke="#04003a" stroke-width="0.6"/>
<circle cx="127.6" cy="169.1" r="4.3" fill="#1400ff" stroke="#04003a" stroke-width="0.6"/>
<circle cx="141.3" cy="189.7" r="4.3" fill="#1400ff" stroke="#04003a" stroke-width="0.6"/>
<circle cx="136.7" cy="217.6" r="4.3" fill="#1400ff" stroke="#04003a" stroke-width="0.6"/>
<circle cx="138.2" cy="230.8" r="4.3" fill="#ff2000" stroke="#4a0602" stroke-width="0.6"/>
<circle cx="135.2" cy="236.2" r="4.3" fill="#ff2000" stroke="#4a0602" stroke-width="0.6"/>
<circle cx="138.9" cy="241" r="4.3" fill="#ff2000" stroke="#4a0602" stroke-width="0.6"/>
<circle cx="137.1" cy="238.9" r="4.3" fill="#ff2000" stroke="#4a0602" stroke-width="0.6"/>
<circle cx="145.8" cy="253.2" r="4.3" fill="#ff2000" stroke="#4a0602" stroke-width="0.6"/>
<circle cx="133.9" cy="275" r="4.3" fill="#ff2000" stroke="#4a0602" stroke-width="0.6"/>
<circle cx="156.3" cy="323.1" r="4.3" fill="#ff2000" stroke="#4a0602" stroke-width="0.6"/>
<path d="M218 159.1L222.9 150.5L213.1 150.5z" fill="#1400ff" stroke="#04003a" stroke-width="0.6"/>
<path d="M212.5 166.1L217.4 157.5L207.6 157.5z" fill="#1400ff" stroke="#04003a" stroke-width="0.6"/>
<path d="M212.5 174.8L217.4 166.2L207.6 166.2z" fill="#1400ff" stroke="#04003a" stroke-width="0.6"/>
<path d="M226.2 195.5L231.1 186.9L221.3 186.9z" fill="#1400ff" stroke="#04003a" stroke-width="0.6"/>
<path d="M221.3 223.8L226.2 215.2L216.4 215.2z" fill="#ff2000" stroke="#4a0602" stroke-width="0.6"/>
<path d="M222.5 236L227.4 227.4L217.6 227.4z" fill="#ff2000" stroke="#4a0602" stroke-width="0.6"/>
<path d="M220.3 241.4L225.2 232.8L215.4 232.8z" fill="#ff2000" stroke="#4a0602" stroke-width="0.6"/>
<path d="M223.5 245.5L228.4 236.9L218.6 236.9z" fill="#ff2000" stroke="#4a0602" stroke-width="0.6"/>
<path d="M230.4 259.1L235.3 250.5L225.5 250.5z" fill="#ff2000" stroke="#4a0602" stroke-width="0.6"/>
<path d="M218.7 281L223.6 272.4L213.8 272.4z" fill="#ff2000" stroke="#4a0602" stroke-width="0.6"/>
<path d="M241.8 328.8L246.7 320.2L236.9 320.2z" fill="#ff2000" stroke="#4a0602" stroke-width="0.6"/>
<rect x="294.8" y="82.3" width="7" height="7" fill="#ff3cf0" stroke="#4a1046" stroke-width="0.6"/>
<rect x="289.1" y="91.8" width="7" height="7" fill="#ff3cf0" stroke="#4a1046" stroke-width="0.6"/>
<rect x="289.8" y="103.2" width="7" height="7" fill="#ff3cf0" stroke="#4a1046" stroke-width="0.6"/>
<rect x="303.4" y="130.1" width="7" height="7" fill="#ff3cf0" stroke="#4a1046" stroke-width="0.6"/>
<path d="M336.3 104.8L341.2 113.4L331.4 113.4z" fill="#1400ff" stroke="#04003a" stroke-width="0.6"/>
<path d="M330.9 114.6L335.8 123.2L326 123.2z" fill="#1400ff" stroke="#04003a" stroke-width="0.6"/>
<path d="M331.3 126.3L336.2 134.9L326.4 134.9z" fill="#1400ff" stroke="#04003a" stroke-width="0.6"/>
<path d="M344.7 153L349.6 161.6L339.8 161.6z" fill="#1400ff" stroke="#04003a" stroke-width="0.6"/>
<path d="M382.4 79.8L386.4 85.4L382.4 91L378.4 85.4z" fill="#ff3cf0" stroke="#4a1046" stroke-width="0.6"/>
<path d="M376.8 89.5L380.8 95.1L376.8 100.7L372.8 95.1z" fill="#ff3cf0" stroke="#4a1046" stroke-width="0.6"/>
<path d="M377.5 100.6L381.5 106.2L377.5 111.8L373.5 106.2z" fill="#ff3cf0" stroke="#4a1046" stroke-width="0.6"/>
<path d="M390.6 128L394.6 133.6L390.6 139.2L386.6 133.6z" fill="#ff3cf0" stroke="#4a1046" stroke-width="0.6"/>
<rect x="298.9" y="166.2" width="7" height="7" fill="#ff2000" stroke="#4a0602" stroke-width="0.6"/>
<rect x="299.8" y="183.5" width="7" height="7" fill="#ff2000" stroke="#4a0602" stroke-width="0.6"/>
<rect x="301.4" y="196.2" width="7" height="7" fill="#ff2000" stroke="#4a0602" stroke-width="0.6"/>
<rect x="308.1" y="212.6" width="7" height="7" fill="#ff2000" stroke="#4a0602" stroke-width="0.6"/>
<rect x="297.6" y="190.8" width="7" height="7" fill="#1400ff" stroke="#04003a" stroke-width="0.6"/>
<rect x="300" y="194.6" width="7" height="7" fill="#1400ff" stroke="#04003a" stroke-width="0.6"/>
<rect x="296.1" y="241.7" width="7" height="7" fill="#1400ff" stroke="#04003a" stroke-width="0.6"/>
<path d="M340.4 190.5L345.3 199.1L335.5 199.1z" fill="#ff2000" stroke="#4a0602" stroke-width="0.6"/>
<path d="M341.4 208.1L346.3 216.7L336.5 216.7z" fill="#ff2000" stroke="#4a0602" stroke-width="0.6"/>
<path d="M349.5 238L354.4 246.6L344.6 246.6z" fill="#ff2000" stroke="#4a0602" stroke-width="0.6"/>
<path d="M338.7 216L343.6 224.6L333.8 224.6z" fill="#1400ff" stroke="#04003a" stroke-width="0.6"/>
<path d="M340.4 219L345.3 227.6L335.5 227.6z" fill="#1400ff" stroke="#04003a" stroke-width="0.6"/>
<path d="M341.4 221.1L346.3 229.7L336.5 229.7z" fill="#1400ff" stroke="#04003a" stroke-width="0.6"/>
<path d="M385.6 165.4L389.6 171L385.6 176.6L381.6 171z" fill="#ff3cf0" stroke="#4a1046" stroke-width="0.6"/>
<path d="M387.6 180.7L391.6 186.3L387.6 191.9L383.6 186.3z" fill="#ff3cf0" stroke="#4a1046" stroke-width="0.6"/>
<path d="M385.6 187.2L389.6 192.8L385.6 198.4L381.6 192.8z" fill="#ff3cf0" stroke="#4a1046" stroke-width="0.6"/>
<path d="M388.8 192.5L392.8 198.1L388.8 203.7L384.8 198.1z" fill="#ff3cf0" stroke="#4a1046" stroke-width="0.6"/>
<path d="M395.3 210.6L399.3 216.2L395.3 221.8L391.3 216.2z" fill="#ff2000" stroke="#4a0602" stroke-width="0.6"/>
<path d="M383.6 239.7L387.6 245.3L383.6 250.9L379.6 245.3z" fill="#1400ff" stroke="#04003a" stroke-width="0.6"/>
<path d="M406.4 302.1L410.4 307.7L406.4 313.3L402.4 307.7z" fill="#ff3cf0" stroke="#4a1046" stroke-width="0.6"/>
<path d="M337.6 267L342.5 275.6L332.7 275.6z" fill="#40ff20" stroke="#14500c" stroke-width="0.6"/>
<rect x="319.2" y="304.5" width="7" height="7" fill="#40ff20" stroke="#14500c" stroke-width="0.6"/>
<path d="M360.4 331.1L365.3 339.7L355.5 339.7z" fill="#40ff20" stroke="#14500c" stroke-width="0.6"/>
<path d="M282 190.5h8.2v-2l6.4 4l-6.4 4v-2h-8.2z" fill="none" stroke="#000" stroke-width="0.9"/>
<path d="M323.6 185.2h-8.4v-2l-6.5 4l6.5 4v-2h8.4z" fill="none" stroke="#000" stroke-width="0.9"/>
<g font-family="'Liberation Serif', 'Times New Roman', serif" font-size="8.2" font-weight="bold" fill="#0a0a0a" stroke="#0a0a0a" stroke-width="0.15">
<text x="148" y="192.6">BPA</text>
<text x="232.5" y="194.3">BPA</text>
<text x="284.9" y="136.3">BPA</text>
<text x="397.1" y="136.3">BPA</text>
<text x="350.3" y="159.9">BPA</text>
<text x="271.7" y="187.8">BPZ</text>
<text x="317.3" y="196.5">BPS</text>
</g>
<text x="330" y="12.8" text-anchor="middle" font-family="'Liberation Sans', Arial, Helvetica, sans-serif" font-size="13" font-weight="bold" fill="#000">Combined D- and K-limited model</text>
<text x="570.7" y="10.5" font-family="'Liberation Sans', Arial, Helvetica, sans-serif" font-size="12" fill="#262626">Mass fraction emitted</text>
<g font-family="'Liberation Sans', Arial, Helvetica, sans-serif" fill="#262626" stroke="#262626" stroke-width="0.2"><text x="292.2" y="433.8" font-size="12">logD</text><text x="318.9" y="440.2" font-size="10">m</text><text x="331.9" y="433.8" font-size="12">(m</text><text x="346.6" y="428.1" font-size="10">2</text><text x="353.5" y="433.8" font-size="12">/s)</text></g>
<g font-family="'Liberation Sans', Arial, Helvetica, sans-serif" fill="#262626" stroke="#262626" stroke-width="0.2"><text transform="translate(11.3 223.8) rotate(-90)" font-size="12">logK</text><text transform="translate(17.6 197.8) rotate(-90)" font-size="10">ma</text></g>
<rect x="498.7" y="17.5" width="115.1" height="51.8" fill="#fff" stroke="#3a3a66" stroke-width="0.8"/>
<rect x="501.45" y="20.35" width="6.3" height="6.3" fill="none" stroke="#111" stroke-width="0.9"/>
<path d="M504.7 28.9L509.25 35.6L500.15 35.6z" fill="none" stroke="#111" stroke-width="0.9"/>
<path d="M504.7 37.9L508.9 43.3L504.7 48.7L500.5 43.3z" fill="none" stroke="#111" stroke-width="0.9"/>
<circle cx="504.7" cy="53.3" r="4.1" fill="none" stroke="#111" stroke-width="0.9"/>
<path d="M504.7 68.4L509.25 60.8L500.15 60.8z" fill="none" stroke="#111" stroke-width="0.9"/>
<g font-family="'Liberation Sans', Arial, Helvetica, sans-serif" font-size="7.6" fill="#151515" stroke="#151515" stroke-width="0.18">
<text x="510.9" y="26.3">PVC (doll)</text>
<text x="510.9" y="36.3">PU (ball)</text>
<text x="510.9" y="46.3">Silicone rubber (teething ring)</text>
<text x="510.9" y="56.8">PET (costume)</text>
<text x="510.9" y="66.8">PA (costume)</text>
</g>
<rect x="571" y="69.8" width="42.8" height="41.3" fill="#fff" stroke="#a9c3cc" stroke-width="0.6"/>
<g font-family="'Liberation Sans', Arial, Helvetica, sans-serif" font-size="7.9" fill="#151515" stroke="#151515" stroke-width="0.18">
<circle cx="576.7" cy="75.8" r="3.7" fill="#ff3cf0" stroke="none"/>
<text x="582.6" y="78.6">mouth</text>
<circle cx="576.7" cy="86" r="3.7" fill="#ff2000" stroke="none"/>
<text x="582.6" y="88.8">dir.derm</text>
<circle cx="576.7" cy="96.2" r="3.7" fill="#1400ff" stroke="none"/>
<text x="582.6" y="99">dust</text>
<circle cx="576.7" cy="106.1" r="3.7" fill="#40ff20" stroke="none"/>
<text x="582.6" y="108.9">inh</text>
</g>
<defs><linearGradient id="cb" x1="0" y1="1" x2="0" y2="0">
<stop offset="0" stop-color="#3c24b2"/>
<stop offset="0.0156" stop-color="#3e26bc"/>
<stop offset="0.0312" stop-color="#4027c5"/>
<stop offset="0.0469" stop-color="#4329d3"/>
<stop offset="0.0625" stop-color="#452be3"/>
<stop offset="0.0781" stop-color="#472df3"/>
<stop offset="0.0938" stop-color="#4832fa"/>
<stop offset="0.1094" stop-color="#4938fa"/>
<stop offset="0.125" stop-color="#4a3ffa"/>
<stop offset="0.1406" stop-color="#4b45fa"/>
<stop offset="0.1562" stop-color="#4c4dfa"/>
<stop offset="0.1719" stop-color="#4e55fa"/>
<stop offset="0.1875" stop-color="#4f5dfa"/>
<stop offset="0.2031" stop-color="#5065fa"/>
<stop offset="0.2188" stop-color="#506ffb"/>
<stop offset="0.2344" stop-color="#5078fb"/>
<stop offset="0.25" stop-color="#5082fc"/>
<stop offset="0.2656" stop-color="#5088fa"/>
<stop offset="0.2812" stop-color="#508ef8"/>
<stop offset="0.2969" stop-color="#5094f6"/>
<stop offset="0.3125" stop-color="#5199f3"/>
<stop offset="0.3281" stop-color="#529df0"/>
<stop offset="0.3438" stop-color="#54a1ed"/>
<stop offset="0.3594" stop-color="#55a6ea"/>
<stop offset="0.375" stop-color="#55ace6"/>
<stop offset="0.3906" stop-color="#55b2e1"/>
<stop offset="0.4062" stop-color="#55b8dd"/>
<stop offset="0.4219" stop-color="#56bdd8"/>
<stop offset="0.4375" stop-color="#58c2d3"/>
<stop offset="0.4531" stop-color="#59c7ce"/>
<stop offset="0.4688" stop-color="#5accc9"/>
<stop offset="0.4844" stop-color="#5acec4"/>
<stop offset="0.5" stop-color="#5ad0bf"/>
<stop offset="0.5156" stop-color="#5ad2b9"/>
<stop offset="0.5312" stop-color="#5bd4b1"/>
<stop offset="0.5469" stop-color="#5dd6a9"/>
<stop offset="0.5625" stop-color="#5ed8a1"/>
<stop offset="0.5781" stop-color="#61da97"/>
<stop offset="0.5938" stop-color="#66dd8d"/>
<stop offset="0.6094" stop-color="#6adf82"/>
<stop offset="0.625" stop-color="#6fe177"/>
<stop offset="0.6406" stop-color="#77de6e"/>
<stop offset="0.6562" stop-color="#80dc64"/>
<stop offset="0.6719" stop-color="#89da5a"/>
<stop offset="0.6875" stop-color="#95d753"/>
<stop offset="0.7031" stop-color="#a2d34c"/>
<stop offset="0.7188" stop-color="#afd046"/>
<stop offset="0.7344" stop-color="#bccc41"/>
<stop offset="0.75" stop-color="#c5ca3f"/>
<stop offset="0.7656" stop-color="#cec73d"/>
<stop offset="0.7812" stop-color="#d9c43c"/>
<stop offset="0.7969" stop-color="#e5bf3c"/>
<stop offset="0.8125" stop-color="#ebbc3d"/>
<stop offset="0.8281" stop-color="#eeba3e"/>
<stop offset="0.8438" stop-color="#eebd3e"/>
<stop offset="0.8594" stop-color="#eec33e"/>
<stop offset="0.875" stop-color="#edcb3f"/>
<stop offset="0.8906" stop-color="#ecd240"/>
<stop offset="0.9062" stop-color="#ecd940"/>
<stop offset="0.9219" stop-color="#ecdf40"/>
<stop offset="0.9375" stop-color="#ece640"/>
<stop offset="0.9531" stop-color="#eced3f"/>
<stop offset="0.9688" stop-color="#edf53e"/>
<stop offset="0.9844" stop-color="#edfb3d"/>
<stop offset="1" stop-color="#ecff3c"/>
</linearGradient></defs>
<rect x="620.8" y="17.2" width="13.9" height="374.3" fill="url(#cb)" stroke="#3a3a3a" stroke-width="0.5"/>
<path d="M634.7 17.2h3.9M634.7 141.97h3.9M634.7 266.73h3.9M634.7 391.5h3.9" stroke="#5a5a5a" stroke-width="0.8" fill="none"/>
<g font-family="'Liberation Sans', Arial, Helvetica, sans-serif" font-size="10" fill="#262626">
<text x="641.9" y="22.2">1</text>
<text x="643.1" y="146.6">10<tspan font-size="8.3" dy="-4.8">-2</tspan></text>
<text x="643.1" y="271.3">10<tspan font-size="8.3" dy="-4.8">-4</tspan></text>
<text x="643.1" y="396.1">10<tspan font-size="8.3" dy="-4.8">-6</tspan></text>
</g>
</svg>
</body></html>
